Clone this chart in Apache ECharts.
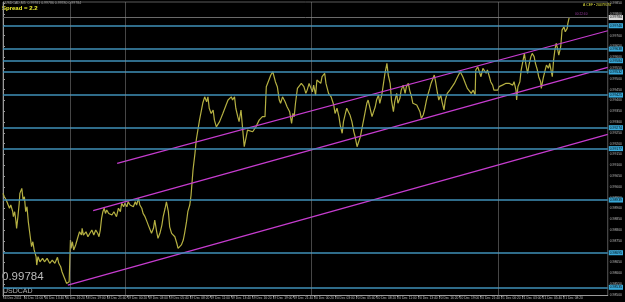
<!DOCTYPE html>
<html><head><meta charset="utf-8">
<script src="https://cdn.jsdelivr.net/npm/echarts@6/dist/echarts.min.js"></script>
<style>html,body{margin:0;padding:0;background:#000;}#c{width:625px;height:302px;}</style>
</head><body><div id="c"></div>
<script>
// M5 bar index (time) of each traced point
const barIdx = [0,2,5,7,10,12,15,16,18,20,21,23,25,26,29,31,33,35,37,39,41,43,44,46,48,51,52,54,57,61,64,68,72,76,80,84,86,89,91,94,96,98,100,102,104,105,107,109,112,115,118,121,122,124,128,131,134,137,140,143,146,148,150,152,154,156,158,160,163,165,168,171,175,178,181,183,186,188,191,193,196,199,201,204,206,209,211,214,216,219,222,224,227,229,232,234,237,239,242,245,247,250,252,255,257,260,262,265,268,270,273,275,278,280,283,285,288,290,293,296,298,303,308,311,314,316,318,321,324,326,329,331,334,336,339,344,347,349,352,354,357,359,362,364,367,369,372,375,377,380,385,390,395,400,404,406,409,413,416,420,423,426,428,431,435,438,442,445,447,449,451,454,457,460,464,467,469,472,474,477,479,482,484,487,490,492,496,498,502,506,510,512,515,518,520,523,525,528,530,533,535,538,541,543,546,548,551,553,556,558,561,563,566,569,571,574,576,579,581,584,586,589,592,594,597,599,602,604,607,609,612,614,617,620,622,625,627,630,632,635,638,640,643,645,648,650,653,655,658,660,665,667,670,672,675,677,680,682,685,689,691,696,701,705,709,713,716,719,722,725,728,729,732,735,737,740,742,745,747,750,752,755,757,760,763,765,770,775,781,786,788,791,792,794,797,799,802,804,806,809,811,814,816,819,821,824,826,829,830,833,836,838,841,843,846,847,849,851,853,855,857,860,862,865,867,870,871,873];
// Close price at each traced point
const price = [0.98970,0.98954,0.98939,0.98947,0.98901,0.98916,0.98885,0.98862,0.98885,0.98839,0.98808,0.98862,0.98924,0.98970,0.98993,0.98939,0.98954,0.98885,0.98908,0.98839,0.98792,0.98746,0.98723,0.98746,0.98708,0.98677,0.98638,0.98677,0.98653,0.98669,0.98653,0.98669,0.98646,0.98661,0.98646,0.98674,0.98646,0.98630,0.98607,0.98584,0.98569,0.98553,0.98549,0.98561,0.98754,0.98715,0.98746,0.98708,0.98731,0.98762,0.98792,0.98777,0.98808,0.98777,0.98792,0.98769,0.98785,0.98800,0.98777,0.98800,0.98785,0.98769,0.98800,0.98854,0.98885,0.98901,0.98877,0.98893,0.98877,0.98885,0.98870,0.98885,0.98862,0.98901,0.98885,0.98924,0.98908,0.98924,0.98908,0.98931,0.98916,0.98924,0.98908,0.98931,0.98916,0.98947,0.98916,0.98901,0.98877,0.98862,0.98839,0.98823,0.98800,0.98785,0.98808,0.98846,0.98792,0.98762,0.98785,0.98823,0.98862,0.98901,0.98931,0.98885,0.98815,0.98785,0.98792,0.98769,0.98739,0.98715,0.98708,0.98731,0.98754,0.98785,0.98839,0.98885,0.98916,0.98962,0.99078,0.99155,0.99217,0.99309,0.99387,0.99417,0.99394,0.99417,0.99364,0.99340,0.99356,0.99309,0.99278,0.99271,0.99302,0.99309,0.99340,0.99379,0.99402,0.99410,0.99417,0.99402,0.99417,0.99364,0.99325,0.99302,0.99356,0.99286,0.99186,0.99232,0.99263,0.99271,0.99255,0.99278,0.99309,0.99325,0.99325,0.99464,0.99487,0.99518,0.99533,0.99487,0.99464,0.99402,0.99387,0.99417,0.99394,0.99371,0.99348,0.99294,0.99340,0.99325,0.99387,0.99456,0.99448,0.99479,0.99464,0.99433,0.99448,0.99479,0.99464,0.99440,0.99471,0.99425,0.99495,0.99503,0.99479,0.99510,0.99526,0.99479,0.99433,0.99417,0.99379,0.99340,0.99364,0.99325,0.99286,0.99248,0.99302,0.99340,0.99364,0.99371,0.99333,0.99302,0.99255,0.99232,0.99186,0.99178,0.99232,0.99263,0.99309,0.99340,0.99387,0.99402,0.99364,0.99325,0.99333,0.99371,0.99402,0.99425,0.99387,0.99425,0.99464,0.99526,0.99572,0.99518,0.99479,0.99402,0.99348,0.99394,0.99433,0.99387,0.99410,0.99448,0.99471,0.99433,0.99464,0.99479,0.99448,0.99417,0.99387,0.99394,0.99379,0.99371,0.99348,0.99317,0.99333,0.99356,0.99402,0.99425,0.99456,0.99479,0.99518,0.99487,0.99433,0.99402,0.99425,0.99394,0.99356,0.99402,0.99433,0.99448,0.99456,0.99479,0.99510,0.99533,0.99510,0.99479,0.99456,0.99448,0.99433,0.99448,0.99425,0.99541,0.99556,0.99549,0.99510,0.99549,0.99556,0.99526,0.99541,0.99510,0.99487,0.99471,0.99448,0.99456,0.99448,0.99464,0.99471,0.99479,0.99479,0.99471,0.99487,0.99448,0.99402,0.99464,0.99487,0.99541,0.99587,0.99618,0.99572,0.99526,0.99564,0.99603,0.99618,0.99603,0.99572,0.99541,0.99510,0.99487,0.99456,0.99503,0.99541,0.99564,0.99549,0.99572,0.99526,0.99510,0.99587,0.99634,0.99665,0.99641,0.99610,0.99649,0.99726,0.99741,0.99718,0.99734,0.99757,0.99784];

const timeLabelBars = [0,32,64,96,128,160,192,224,256,288,320,352,384,416,448,480,512,544,576,608,640,672,704,736,768,800,832,864];
const timeLabels = ['16 Dec 2011','16 Dec 11:00','16 Dec 13:40','16 Dec 16:20','18 Dec 19:00','18 Dec 21:40','19 Dec 00:20','19 Dec 03:00','19 Dec 05:40','19 Dec 08:20','19 Dec 11:00','19 Dec 13:40','19 Dec 16:20','19 Dec 19:00','19 Dec 21:40','20 Dec 00:20','20 Dec 03:00','20 Dec 05:40','20 Dec 08:20','20 Dec 11:00','20 Dec 13:40','20 Dec 16:20','20 Dec 19:00','20 Dec 21:40','21 Dec 00:20','21 Dec 03:00','21 Dec 05:40','21 Dec 08:20'];
const priceTicks = [0.9985,0.9980,0.9975,0.9970,0.9965,0.9960,0.9955,0.9950,0.9945,0.9940,0.9935,0.9930,0.9925,0.9920,0.9915,0.9910,0.9905,0.9900,0.9895,0.9890,0.9885,0.9880,0.9875,0.9870,0.9865,0.9860,0.9855,0.9850];
const levels = [0.99746,0.99638,0.99584,0.99532,0.99425,0.99274,0.99177,0.98939,0.98695,0.98535];
const bid = 0.99784;
const separators = [104,188,476,764];
const channelA = [[176,0.99109],[932.5,0.99723]];
const channelB = [[139,0.98890],[932.5,0.99553]];
const channelC = [[100,0.98545],[932.5,0.99243]];

const chart = echarts.init(document.getElementById('c'), null, {renderer:'canvas'});
const F = 'Liberation Sans, Arial, sans-serif';
const chanStyle = {color:'#c63ccf', width:1.2};
function chan(d){return {type:'line', data:d, showSymbol:false, silent:true, lineStyle:chanStyle, z:4};}

chart.setOption({
  backgroundColor:'#000',
  animation:false,
  grid:{left:2, right:14, top:2, bottom:6.5, show:true, borderColor:'#5a5a5a', borderWidth:1},
  xAxis:{type:'value', min:0, max:932.5,
    axisLine:{show:true, lineStyle:{color:'#9a9a9a', width:1}},
    axisTick:{show:true, length:2, inside:false, customValues:timeLabelBars, lineStyle:{color:'#9a9a9a'}},
    axisLabel:{show:true, customValues:timeLabelBars, color:'#bdbdbd', fontSize:3.3, fontFamily:F, align:'left', margin:1,
      formatter:v=>{const i=timeLabelBars.indexOf(Math.round(v)); return i>=0?timeLabels[i]:'';}},
    splitLine:{show:false}},
  yAxis:{type:'value', position:'right', min:0.98497, max:0.99856,
    axisLine:{show:true, lineStyle:{color:'#9a9a9a', width:1}},
    axisTick:{show:true, length:2, customValues:priceTicks, lineStyle:{color:'#9a9a9a'}},
    axisLabel:{show:true, customValues:priceTicks, color:'#bdbdbd', fontSize:3.4, fontFamily:F, margin:2,
      formatter:v=>v.toFixed(5)},
    splitLine:{show:false}},
  series:[
    {type:'line', data:barIdx.map((b,i)=>[b,price[i]]), showSymbol:false, silent:true, z:3,
     lineStyle:{color:'#b5b042', width:1.2},
     markLine:{symbol:'none', silent:true, precision:5,
       data:[
         ...levels.map(v=>({yAxis:v, lineStyle:{color:'#3f90b8', width:1.6, type:'solid'},
            label:{show:true, position:'end', distance:1, formatter:p=>p.value.toFixed(5), fontSize:3.4, fontFamily:F,
              color:'#000', backgroundColor:'#38a8d8', padding:[1,1]}})),
         {yAxis:bid, lineStyle:{color:'#6a6a6a', width:1, type:'solid'},
            label:{show:true, position:'end', distance:1, formatter:p=>p.value.toFixed(5), fontSize:3.4, fontFamily:F,
              color:'#000', backgroundColor:'#d8d8d8', padding:[1,1]}},
         ...separators.map(b=>({xAxis:b, lineStyle:{color:'#8c8c8c', width:1, type:'dotted'}, label:{show:false}}))
       ]}},
    chan(channelA), chan(channelB), chan(channelC)
  ],
  graphic:[
    {type:'text', left:5, top:1, style:{text:'USDCAD,M5  0.99781 0.99786 0.99780 0.99784', fill:'#a0a0a0', font:'3.5px '+F}},
    {type:'text', left:2, top:5, style:{text:'Spread = 2.2', fill:'#f0f030', font:'bold 6px '+F}},
    {type:'text', left:583, top:3.5, style:{text:'A CEF \u2022 20479570', fill:'#e0e040', font:'3.4px '+F}},
    {type:'text', left:575, top:12.5, style:{text:'00:22:40', fill:'#9a3aa0', font:'3.2px '+F}},
    {type:'text', left:2, top:270.5, style:{text:'0.99784', fill:'#bcbcbc', font:'11.5px '+F}},
    {type:'text', left:3, top:287.5, style:{text:'USDCAD', fill:'#b0b0b0', font:'7px '+F}}
  ]
});
</script></body></html>
